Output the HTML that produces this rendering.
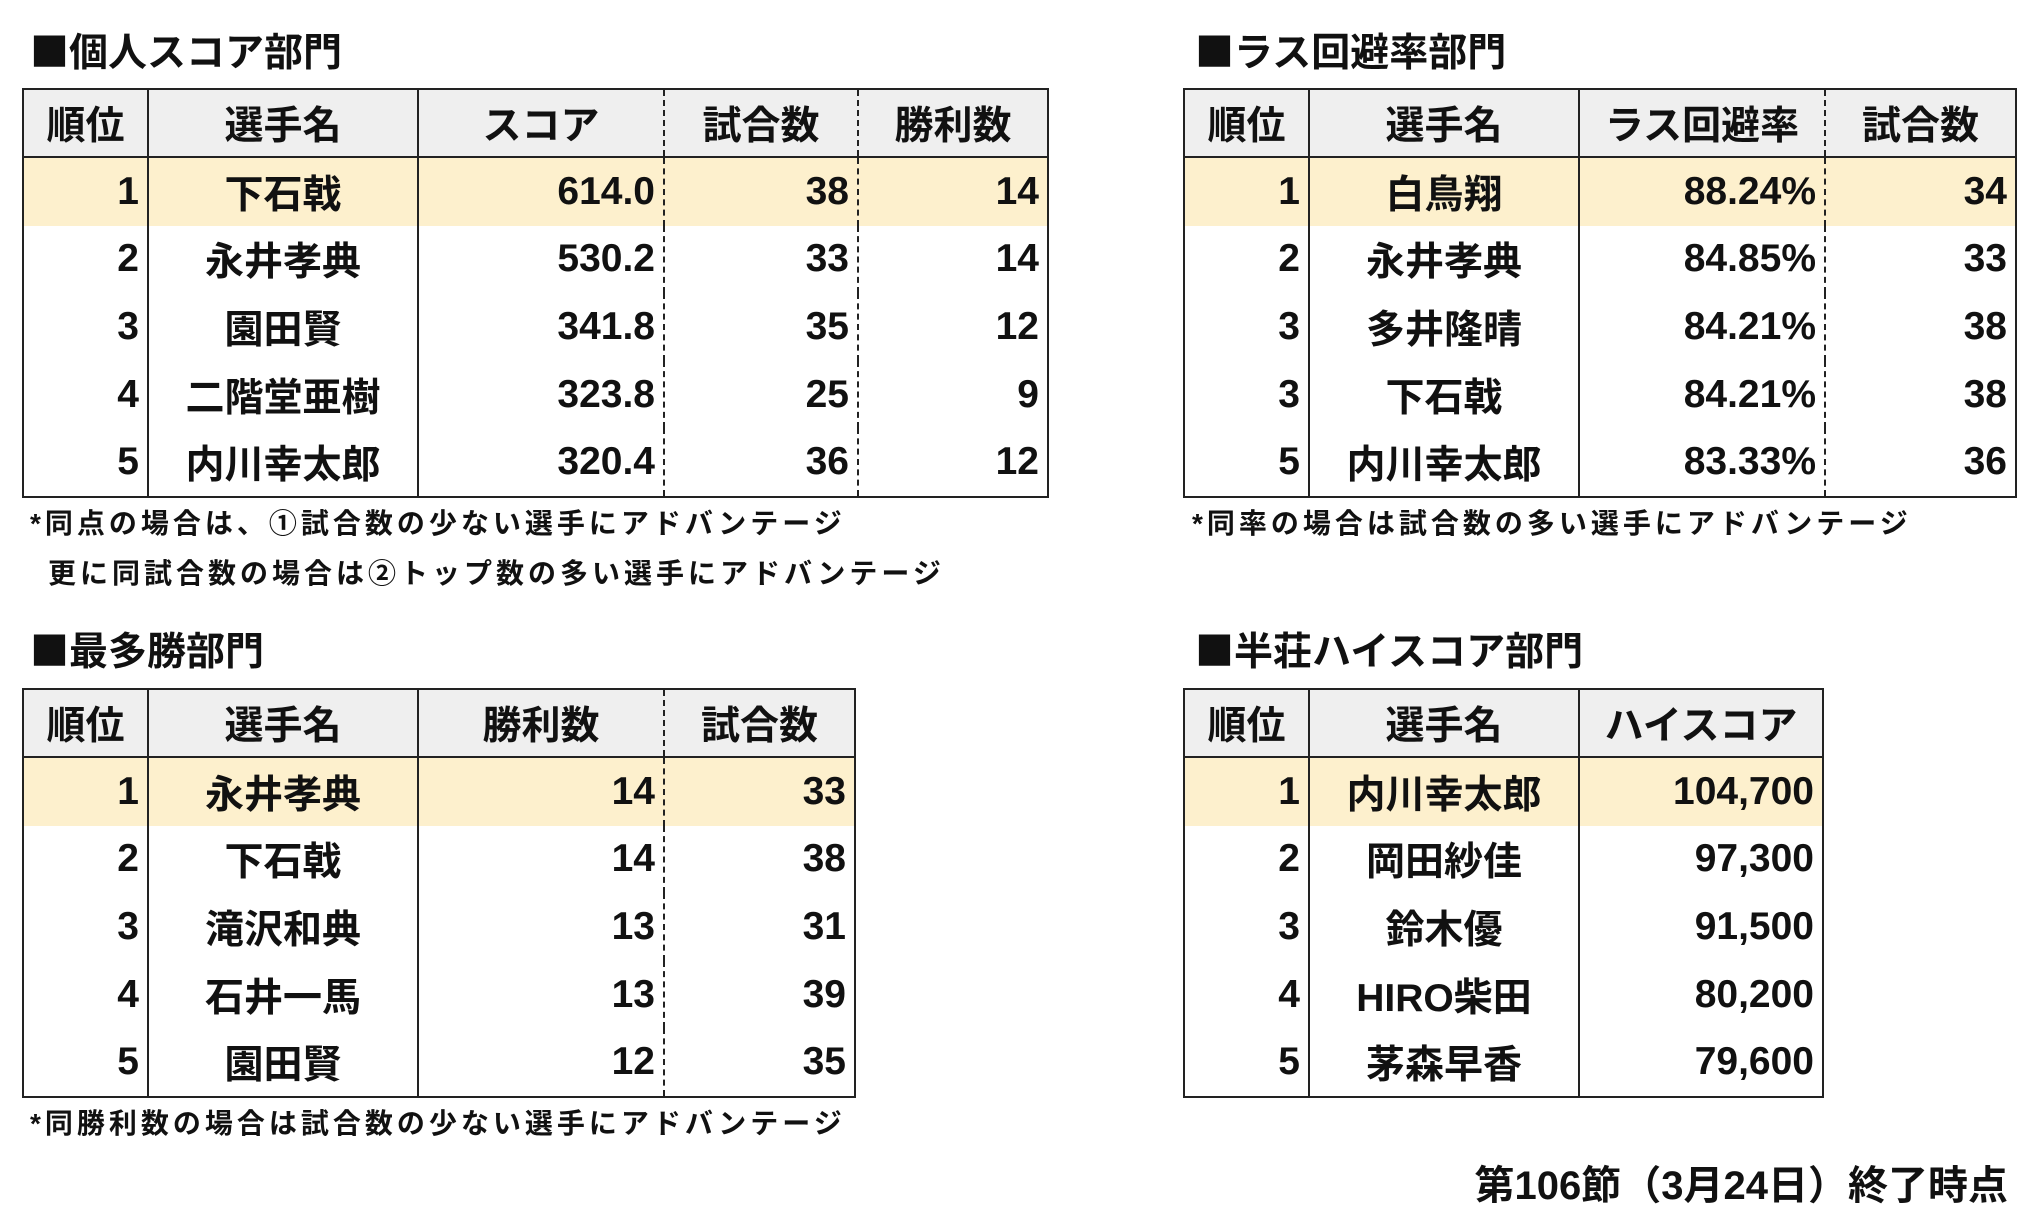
<!DOCTYPE html>
<html><head><meta charset="utf-8"><style>
body{margin:0;width:2038px;height:1223px;background:#fff;position:relative;overflow:hidden;font-family:"Liberation Sans","Noto Sans CJK JP",sans-serif;color:#111}
.t{position:absolute;font-size:39px;font-weight:bold;white-space:nowrap;line-height:1;transform:translateY(-50%)}
.t span{font-family:"Noto Sans CJK JP",sans-serif}
.tb{position:absolute;border:2px solid #222;box-sizing:border-box;font-weight:bold;font-size:39px}
.row{display:flex;height:67.6px}
.row.h{height:66px;border-bottom:2px solid #222;background:#efefef}
.row.y{background:#fdf0cd}
.c{box-sizing:border-box;border-right:2px solid #222;display:flex;align-items:center;justify-content:center;padding:0 8px;white-space:nowrap}
.c:last-child{border-right:none}
.c.r{justify-content:flex-end}
.c.dr{border-right:2px dashed #222}
.n{position:absolute;font-size:28px;letter-spacing:4px;font-weight:bold;white-space:nowrap;line-height:1;transform:translateY(-50%)}
</style></head><body>

<div class="t" style="left:30px;top:52px"><span>■</span>個人スコア部門</div>
<div class="tb" style="left:22px;top:88px;width:1027px;height:410px">
<div class="row h"><div class="c" style="width:125px">順位</div><div class="c" style="width:270px">選手名</div><div class="c dr" style="width:246px">スコア</div><div class="c dr" style="width:194px">試合数</div><div class="c" style="width:188px">勝利数</div></div>
<div class="row y"><div class="c r" style="width:125px">1</div><div class="c" style="width:270px">下石戟</div><div class="c r dr" style="width:246px">614.0</div><div class="c r dr" style="width:194px">38</div><div class="c r" style="width:188px">14</div></div>
<div class="row"><div class="c r" style="width:125px">2</div><div class="c" style="width:270px">永井孝典</div><div class="c r dr" style="width:246px">530.2</div><div class="c r dr" style="width:194px">33</div><div class="c r" style="width:188px">14</div></div>
<div class="row"><div class="c r" style="width:125px">3</div><div class="c" style="width:270px">園田賢</div><div class="c r dr" style="width:246px">341.8</div><div class="c r dr" style="width:194px">35</div><div class="c r" style="width:188px">12</div></div>
<div class="row"><div class="c r" style="width:125px">4</div><div class="c" style="width:270px">二階堂亜樹</div><div class="c r dr" style="width:246px">323.8</div><div class="c r dr" style="width:194px">25</div><div class="c r" style="width:188px">9</div></div>
<div class="row"><div class="c r" style="width:125px">5</div><div class="c" style="width:270px">内川幸太郎</div><div class="c r dr" style="width:246px">320.4</div><div class="c r dr" style="width:194px">36</div><div class="c r" style="width:188px">12</div></div>
</div>
<div class="n" style="left:30px;top:524px">*同点の場合は、①試合数の少ない選手にアドバンテージ</div>
<div class="n" style="left:48px;top:574px">更に同試合数の場合は②トップ数の多い選手にアドバンテージ</div>

<div class="t" style="left:1195px;top:52px"><span>■</span>ラス回避率部門</div>
<div class="tb" style="left:1183px;top:88px;width:834px;height:410px">
<div class="row h"><div class="c" style="width:125px">順位</div><div class="c" style="width:270px">選手名</div><div class="c dr" style="width:246px">ラス回避率</div><div class="c" style="width:189px">試合数</div></div>
<div class="row y"><div class="c r" style="width:125px">1</div><div class="c" style="width:270px">白鳥翔</div><div class="c r dr" style="width:246px">88.24%</div><div class="c r" style="width:189px">34</div></div>
<div class="row"><div class="c r" style="width:125px">2</div><div class="c" style="width:270px">永井孝典</div><div class="c r dr" style="width:246px">84.85%</div><div class="c r" style="width:189px">33</div></div>
<div class="row"><div class="c r" style="width:125px">3</div><div class="c" style="width:270px">多井隆晴</div><div class="c r dr" style="width:246px">84.21%</div><div class="c r" style="width:189px">38</div></div>
<div class="row"><div class="c r" style="width:125px">3</div><div class="c" style="width:270px">下石戟</div><div class="c r dr" style="width:246px">84.21%</div><div class="c r" style="width:189px">38</div></div>
<div class="row"><div class="c r" style="width:125px">5</div><div class="c" style="width:270px">内川幸太郎</div><div class="c r dr" style="width:246px">83.33%</div><div class="c r" style="width:189px">36</div></div>
</div>
<div class="n" style="left:1192px;top:524px">*同率の場合は試合数の多い選手にアドバンテージ</div>

<div class="t" style="left:30px;top:651px"><span>■</span>最多勝部門</div>
<div class="tb" style="left:22px;top:688px;width:834px;height:410px">
<div class="row h"><div class="c" style="width:125px">順位</div><div class="c" style="width:270px">選手名</div><div class="c dr" style="width:246px">勝利数</div><div class="c" style="width:189px">試合数</div></div>
<div class="row y"><div class="c r" style="width:125px">1</div><div class="c" style="width:270px">永井孝典</div><div class="c r dr" style="width:246px">14</div><div class="c r" style="width:189px">33</div></div>
<div class="row"><div class="c r" style="width:125px">2</div><div class="c" style="width:270px">下石戟</div><div class="c r dr" style="width:246px">14</div><div class="c r" style="width:189px">38</div></div>
<div class="row"><div class="c r" style="width:125px">3</div><div class="c" style="width:270px">滝沢和典</div><div class="c r dr" style="width:246px">13</div><div class="c r" style="width:189px">31</div></div>
<div class="row"><div class="c r" style="width:125px">4</div><div class="c" style="width:270px">石井一馬</div><div class="c r dr" style="width:246px">13</div><div class="c r" style="width:189px">39</div></div>
<div class="row"><div class="c r" style="width:125px">5</div><div class="c" style="width:270px">園田賢</div><div class="c r dr" style="width:246px">12</div><div class="c r" style="width:189px">35</div></div>
</div>
<div class="n" style="left:30px;top:1124px">*同勝利数の場合は試合数の少ない選手にアドバンテージ</div>

<div class="t" style="left:1195px;top:651px"><span>■</span>半荘ハイスコア部門</div>
<div class="tb" style="left:1183px;top:688px;width:641px;height:410px">
<div class="row h"><div class="c" style="width:125px">順位</div><div class="c" style="width:270px">選手名</div><div class="c" style="width:242px">ハイスコア</div></div>
<div class="row y"><div class="c r" style="width:125px">1</div><div class="c" style="width:270px">内川幸太郎</div><div class="c r" style="width:242px">104,700</div></div>
<div class="row"><div class="c r" style="width:125px">2</div><div class="c" style="width:270px">岡田紗佳</div><div class="c r" style="width:242px">97,300</div></div>
<div class="row"><div class="c r" style="width:125px">3</div><div class="c" style="width:270px">鈴木優</div><div class="c r" style="width:242px">91,500</div></div>
<div class="row"><div class="c r" style="width:125px">4</div><div class="c" style="width:270px">HIRO柴田</div><div class="c r" style="width:242px">80,200</div></div>
<div class="row"><div class="c r" style="width:125px">5</div><div class="c" style="width:270px">茅森早香</div><div class="c r" style="width:242px">79,600</div></div>
</div>

<div class="t" style="right:30px;top:1186px;font-size:40px">第106節（3月24日）終了時点</div>
</body></html>
